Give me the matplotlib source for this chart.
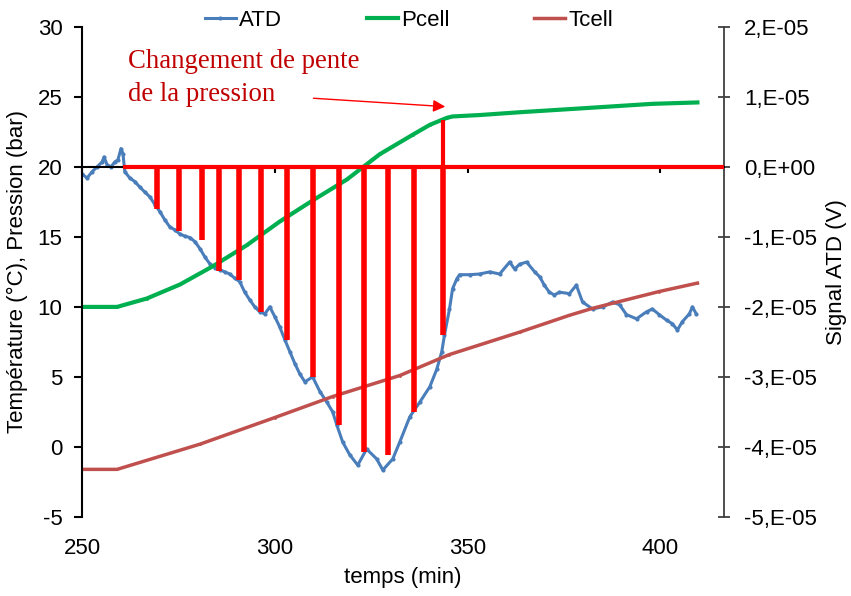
import numpy as np
import matplotlib
matplotlib.use('Agg')
import matplotlib.pyplot as plt
from matplotlib.ticker import FuncFormatter

plt.rcParams['font.family'] = ['Liberation Sans', 'DejaVu Sans']
plt.rcParams['font.size'] = 16
plt.rcParams['axes.unicode_minus'] = False

# ATD signal (values in 1e-5 V)
atd_t = [250.0, 251.3, 252.6, 253.9, 255.2, 255.7, 256.5, 257.5, 258.5, 259.3,
         260.1, 260.6, 261.1, 262.4, 263.7, 265.0, 266.3, 267.6, 268.9, 270.2,
         271.5, 272.8, 274.1, 275.4, 276.7, 278.0, 279.3, 280.6, 281.9, 283.2,
         284.5, 285.8, 287.0, 288.3, 289.6, 290.9, 292.2, 293.5, 294.8, 296.1,
         297.4, 298.7, 300.0, 301.3, 302.6, 303.9, 305.2, 306.5, 307.8, 309.8,
         311.7, 313.5, 315.0, 316.1, 317.6, 319.4, 321.5, 323.8, 326.4, 328.0,
         330.6, 332.4, 335.0, 337.6, 340.2, 342.0, 343.3, 344.0, 345.3, 346.1,
         347.2, 347.9, 350.5, 353.1, 355.7, 358.3, 360.9, 362.2, 363.5, 365.3,
         367.4, 368.7, 369.9, 371.2, 372.5, 373.8, 376.4, 378.2, 379.8, 382.4,
         385.0, 387.6, 389.4, 391.2, 393.8, 396.4, 397.9, 399.7, 401.6, 403.1,
         404.4, 405.7, 407.5, 408.3, 409.3]
atd_v = [-0.10, -0.16, -0.07, 0.00, 0.07, 0.14, 0.03, 0.00, 0.07, 0.10,
         0.26, 0.19, -0.07, -0.16, -0.21, -0.29, -0.36, -0.43, -0.54, -0.64,
         -0.76, -0.86, -0.90, -0.96, -0.99, -1.01, -1.07, -1.17, -1.29, -1.39,
         -1.44, -1.47, -1.50, -1.53, -1.59, -1.64, -1.79, -1.90, -2.00, -2.07,
         -2.10, -2.00, -2.14, -2.29, -2.47, -2.64, -2.81, -2.96, -3.07, -3.00,
         -3.21, -3.36, -3.50, -3.69, -3.93, -4.11, -4.26, -4.03, -4.17, -4.33,
         -4.17, -3.93, -3.57, -3.36, -3.14, -2.89, -2.64, -2.40, -2.03, -1.74,
         -1.60, -1.54, -1.54, -1.53, -1.50, -1.53, -1.36, -1.46, -1.39, -1.36,
         -1.50, -1.57, -1.69, -1.79, -1.83, -1.79, -1.81, -1.69, -1.93, -2.03,
         -2.00, -1.93, -1.97, -2.11, -2.17, -2.07, -2.03, -2.11, -2.19, -2.24,
         -2.33, -2.21, -2.10, -2.00, -2.10]

pcell_t = [250.0, 259.1, 266.8, 275.4, 283.9, 292.7, 301.3, 309.8, 318.7, 327.2,
           335.8, 340.2, 344.6, 346.1, 353.1, 363.5, 380.8, 397.9, 409.6]
pcell_v = [10.0, 10.0, 10.6, 11.6, 12.9, 14.4, 16.1, 17.6, 19.1, 20.9,
           22.3, 23.0, 23.5, 23.6, 23.7, 23.9, 24.2, 24.5, 24.6]

tcell_t = [250.0, 259.1, 280.6, 300.0, 315.0, 332.4, 345.3, 363.5, 376.4, 382.4,
           399.7, 409.6]
tcell_v = [-1.6, -1.6, 0.2, 2.1, 3.6, 5.1, 6.6, 8.2, 9.4, 9.9, 11.1, 11.7]

# hand drawn red bars (1e-5 V)
bar_t = [269.4, 275.1, 281.1, 285.5, 290.7, 296.4, 303.1, 309.8, 316.6, 323.1,
         329.3, 336.0, 343.5]
bar_v = [-0.60, -0.91, -1.04, -1.49, -1.61, -2.07, -2.47, -3.00, -3.69, -4.07,
         -4.11, -3.50, -2.40]
zero_start = 260.6
pente_t = 343.5
pente_top = 0.67


def sci_comma(v, pos):
    if abs(v) < 1e-12:
        return '0,E+00'
    return f"{v:.0E}".replace('E', ',E')


fig = plt.figure(figsize=(8.51, 5.96), dpi=100)
fig.subplots_adjust(left=0.0964, right=0.8508, top=0.955, bottom=0.1326)

ax1 = fig.add_subplot(1, 1, 1)
ax2 = ax1.twinx()
ax3 = ax1.twinx()
ax2.set_zorder(1)
ax1.set_zorder(2)
ax3.set_zorder(3)
for a in (ax1, ax2, ax3):
    a.patch.set_visible(False)

ax2.plot(atd_t, np.array(atd_v) * 1e-5, color='#4A7EBB', lw=2.2,
         marker='o', ms=3, mew=0, label='ATD')
ax1.plot(pcell_t, pcell_v, color='#00B050', lw=3, marker='.', ms=2, label='Pcell')
ax1.plot(tcell_t, tcell_v, color='#C0504D', lw=2.5, marker='.', ms=2, label='Tcell')

xmax = 416.5
ax3.hlines(0, zero_start, xmax, color='#FF0000', lw=3)
ax3.vlines(bar_t, np.array(bar_v) * 1e-5, 0, color='#FF0000', lw=4)
ax3.vlines(pente_t, 0, pente_top * 1e-5, color='#FF0000', lw=3)
ax3.axis('off')

ax1.set_xlim(250, xmax)
ax1.set_ylim(-5, 30)
ax2.set_ylim(-5e-5, 2e-5)
ax3.set_ylim(-5e-5, 2e-5)

# x axis line crosses at 0 V
ax1.spines['top'].set_visible(False)
ax1.spines['right'].set_visible(False)
ax1.spines['bottom'].set_position(('data', 20))
ax1.spines['bottom'].set_linewidth(1.5)
ax1.spines['left'].set_linewidth(1.5)
ax1.set_xticks([250, 300, 350, 400])
ax1.tick_params(axis='x', direction='out', length=4, width=1.5, labelbottom=False)
ax1.set_yticks(np.arange(-5, 31, 5))
ax1.tick_params(axis='y', direction='out', length=6, width=1.5, pad=8)
ax1.set_ylabel('Température (°C), Pression (bar)', labelpad=7)

for s in ('left', 'top', 'bottom'):
    ax2.spines[s].set_visible(False)
ax2.spines['right'].set_color('#404040')
ax2.spines['right'].set_linewidth(1.3)
ax2.set_yticks(np.arange(-5e-5, 2.1e-5, 1e-5))
ax2.yaxis.set_major_formatter(FuncFormatter(sci_comma))
ax2.tick_params(axis='y', direction='inout', length=9, width=1.3, color='#404040', pad=10)
ax2.set_ylabel('Signal ATD (V)', labelpad=6)

sec = ax1.secondary_xaxis('bottom')
sec.set_xticks([250, 300, 350, 400])
sec.tick_params(length=0, pad=15)
sec.spines['bottom'].set_visible(False)
sec.set_xlabel('temps (min)', labelpad=6)

ax1.text(261.9, 28.4, 'Changement de pente\nde la pression', color='#C00000',
         family='Liberation Serif', fontsize=19.3, va='top', ha='left', linespacing=1.4)
ax1.annotate('', xy=(344.2, 24.3), xytext=(310.0, 24.9),
             arrowprops=dict(arrowstyle='-|>', color='#FF0000', lw=1,
                             mutation_scale=18, shrinkA=0, shrinkB=0))

h2, l2 = ax2.get_legend_handles_labels()
h1, l1 = ax1.get_legend_handles_labels()
fig.legend(h2 + h1, l2 + l1, loc='center', bbox_to_anchor=(0.4806, 0.966), ncol=3,
           frameon=False, handlelength=1.4, handletextpad=0.15, columnspacing=3.8,
           fontsize=16)

fig.savefig('out.png', dpi=100)
